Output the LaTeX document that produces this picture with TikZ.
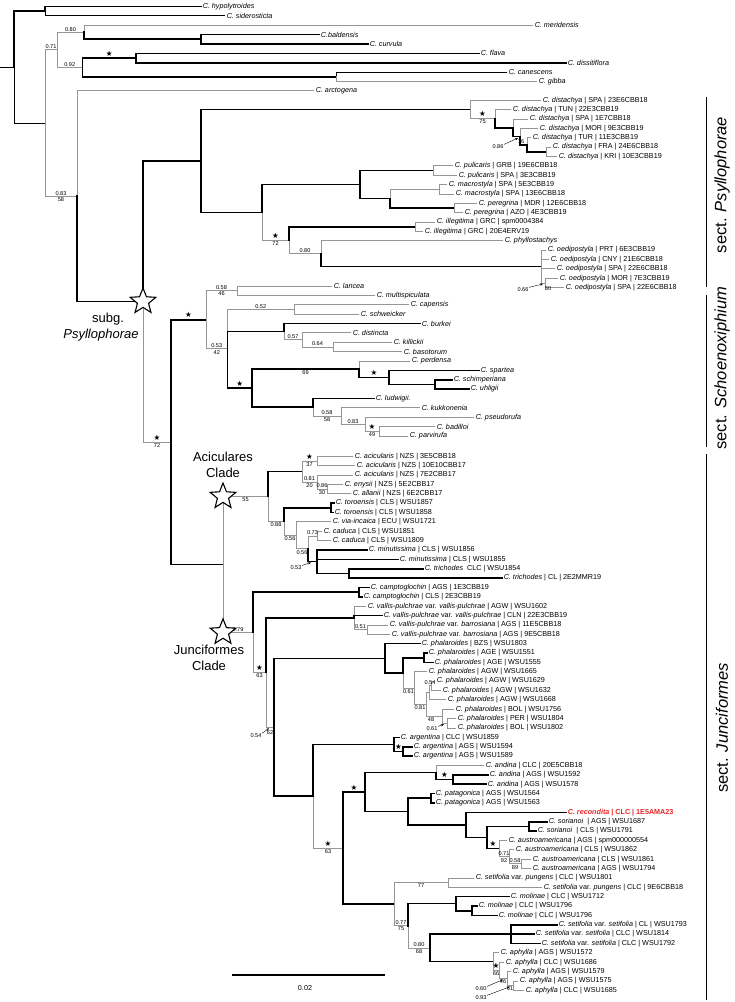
\documentclass[tikz,border=0pt]{standalone}
\usepackage{fontspec}
\setmainfont{Liberation Sans}
\newfontfamily\symf{DejaVu Sans}
\usetikzlibrary{calc,shapes.geometric,arrows.meta}
\definecolor{thg}{RGB}{150,150,150}
\definecolor{recred}{RGB}{235,35,35}
\newcommand\tip[4]{\coordinate (#1) at (#2,{6.5+(#3-1)*9.37}); \node[lab] (#1l) at (#1) {#4};}
\newcommand\inode[4]{\path let \p1=(#3), \p2=(#4) in coordinate (#1) at ({#2pt},{0.5*\y1+0.5*\y2});}
\newcommand\br[3]{\draw[#1] (#2) |- (#3);}
\newcommand\ab[3]{\path let \p1=(#1), \p2=(#2) in node[sv,anchor=south] (#2-pp) at ({0.5*\x1+0.5*\x2},{\y2+0.4pt}) {#3};}
\newcommand\be[3]{\path let \p1=(#1), \p2=(#2) in node[sv,anchor=north] (#2-bs) at ({0.5*\x1+0.5*\x2},{\y2-0.6pt}) {#3};}
\newcommand\st[2]{\path let \p1=(#1), \p2=(#2) in node[stl] (#2-st) at ({0.5*\x1+0.5*\x2},{\y2+4.6pt}) {★};}
\begin{document}
\begin{tikzpicture}[x=1pt,y=-1pt,
 bo/.style={draw=black,line width=1.6pt,line cap=rect},
 md/.style={draw=black,line width=0.8pt,line cap=rect},
 th/.style={draw=thg,line width=0.8pt,line cap=rect},
 lab/.style={font=\fontsize{7.2}{8}\selectfont,anchor=west,inner sep=1.6pt},
 sv/.style={font=\fontsize{5.6}{6}\selectfont,inner sep=0.5pt},
 stl/.style={font=\symf\fontsize{7.5}{8}\selectfont,inner sep=0pt},
 arr/.style={-{Stealth[length=3pt,width=2.4pt]},line width=0.4pt},
 bigstar/.style={star,star points=5,star point ratio=2.3,minimum size=27pt,inner sep=0pt,draw=black,line width=1.1pt,fill=white},
 cl/.style={font=\fontsize{13}{14}\selectfont,inner sep=0pt},
 sect/.style={font=\fontsize{16.5}{18}\selectfont,inner sep=0pt,rotate=90},
 secbar/.style={draw=black,line width=1pt}]
\useasboundingbox (0,0) rectangle (735,1002);
\coordinate (o) at (0,0);
% ---------------- tips
\tip{t1}{201}{1}{\textit{C. hypolytroides}}
\tip{t2}{225}{2}{\textit{C. siderosticta}}
\tip{t3}{533}{3}{\textit{C. meridensis}}
\tip{t4}{319}{4}{\textit{C.baldensis}}
\tip{t5}{368}{5}{\textit{C. curvula}}
\tip{t6}{479}{6}{\textit{C. flava}}
\tip{t7}{566}{7}{\textit{C. dissitiflora}}
\tip{t8}{507}{8}{\textit{C. canescens}}
\tip{t9}{537}{9}{\textit{C. gibba}}
\tip{t10}{314}{10}{\textit{C. arctogena}}
\tip{t11}{541}{11}{\textit{C. distachya} | SPA | 23E6CBB18}
\tip{t12}{511}{12}{\textit{C. distachya} | TUN | 22E3CBB19}
\tip{t13}{528}{13}{\textit{C. distachya} | SPA | 1E7CBB18}
\tip{t14}{538}{14}{\textit{C. distachya} | MOR | 9E3CBB19}
\tip{t15}{531}{15}{\textit{C. distachya} | TUR | 11E3CBB19}
\tip{t16}{551}{16}{\textit{C. distachya} | FRA | 24E6CBB18}
\tip{t17}{557}{17}{\textit{C. distachya} | KRI | 10E3CBB19}
\tip{t18}{453}{18}{\textit{C. pulicaris} | GRB | 19E6CBB18}
\tip{t19}{457}{19}{\textit{C. pulicaris} | SPA | 3E3CBB19}
\tip{t20}{447}{20}{\textit{C. macrostyla} | SPA | 5E3CBB19}
\tip{t21}{454}{21}{\textit{C. macrostyla} | SPA | 13E6CBB18}
\tip{t22}{477}{22}{\textit{C. peregrina} | MDR | 12E6CBB18}
\tip{t23}{463}{23}{\textit{C. peregrina} | AZO | 4E3CBB19}
\tip{t24}{435}{24}{\textit{C. illegitima} | GRC | spm0004384}
\tip{t25}{423}{25}{\textit{C. illegitima} | GRC | 20E4ERV19}
\tip{t26}{503}{26}{\textit{C. phyllostachys}}
\tip{t27}{546}{27}{\textit{C. oedipostyla} | PRT | 6E3CBB19}
\tip{t28}{549}{28}{\textit{C. oedipostyla} | CNY | 21E6CBB18}
\tip{t29}{555}{29}{\textit{C. oedipostyla} | SPA | 22E6CBB18}
\tip{t30}{558}{30}{\textit{C. oedipostyla} | MOR | 7E3CBB19}
\tip{t31}{564}{31}{\textit{C. oedipostyla} | SPA | 22E6CBB18}
\tip{t32}{332}{30.83}{\textit{C. lancea}}
\tip{t33}{375}{31.83}{\textit{C. multispiculata}}
\tip{t34}{409}{32.83}{\textit{C. capensis}}
\tip{t35}{359}{33.83}{\textit{C. schweicker}}
\tip{t36}{420}{34.83}{\textit{C. burkei}}
\tip{t37}{351}{35.83}{\textit{C. distincta}}
\tip{t38}{392}{36.83}{\textit{C. killickii}}
\tip{t39}{402}{37.83}{\textit{C. basotorum}}
\tip{t40}{410}{38.83}{\textit{C. perdensa}}
\tip{t41}{479}{39.83}{\textit{C. spartea}}
\tip{t42}{452}{40.83}{\textit{C. schimperiana}}
\tip{t43}{469}{41.83}{\textit{C. uhligii}}
\tip{t44}{374}{42.83}{\textit{C. ludwigii.}}
\tip{t45}{420}{43.83}{\textit{C. kukkonenia}}
\tip{t46}{474}{44.83}{\textit{C. pseudorufa}}
\tip{t47}{435}{45.83}{\textit{C. badilloi}}
\tip{t48}{408}{46.83}{\textit{C. parvirufa}}
\tip{t49}{353}{49}{\textit{C. acicularis} | NZS | 3E5CBB18}
\tip{t50}{355}{50}{\textit{C. acicularis} | NZS | 10E10CBB17}
\tip{t51}{353}{51}{\textit{C. acicularis} | NZS | 7E2CBB17}
\tip{t52}{343}{52}{\textit{C. enysii} | NZS | 5E2CBB17}
\tip{t53}{351}{53}{\textit{C. allanii} | NZS | 6E2CBB17}
\tip{t54}{334}{54}{\textit{C. toroensis} | CLS | WSU1857}
\tip{t55}{333}{55}{\textit{C. toroensis} | CLS | WSU1858}
\tip{t56}{331}{56}{\textit{C. via-incaica} | ECU | WSU1721}
\tip{t57}{322}{57}{\textit{C. caduca} | CLS | WSU1851}
\tip{t58}{331}{58}{\textit{C. caduca} | CLS | WSU1809}
\tip{t59}{367}{59}{\textit{C. minutissima} | CLS | WSU1856}
\tip{t60}{398}{60}{\textit{C. minutissima} | CLS | WSU1855}
\tip{t61}{423}{61}{\textit{C. trichodes}\ \ CLC | WSU1854}
\tip{t62}{502}{62}{\textit{C. trichodes} | CL | 2E2MMR19}
\tip{t63}{369}{63}{\textit{C. camptoglochin} | AGS | 1E3CBB19}
\tip{t64}{362}{64}{\textit{C. camptoglochin} | CLS | 2E3CBB19}
\tip{t65}{366}{65}{\textit{C. vallis-pulchrae} var. \textit{vallis-pulchrae} | AGW | WSU1602}
\tip{t66}{382}{66}{\textit{C. vallis-pulchrae} var. \textit{vallis-pulchrae} | CLN | 22E3CBB19}
\tip{t67}{388}{67}{\textit{C. vallis-pulchrae} var. \textit{barrosiana} | AGS | 11E5CBB18}
\tip{t68}{390}{68}{\textit{C. vallis-pulchrae} var. \textit{barrosiana} | AGS | 9E5CBB18}
\tip{t69}{420}{69}{\textit{C. phalaroides} | BZS | WSU1803}
\tip{t70}{427}{70}{\textit{C. phalaroides} | AGE | WSU1551}
\tip{t71}{433}{71}{\textit{C. phalaroides} | AGE | WSU1555}
\tip{t72}{427}{72}{\textit{C. phalaroides} | AGW | WSU1665}
\tip{t73}{435}{73}{\textit{C. phalaroides} | AGW | WSU1629}
\tip{t74}{441}{74}{\textit{C. phalaroides} | AGW | WSU1632}
\tip{t75}{446}{75}{\textit{C. phalaroides} | AGW | WSU1668}
\tip{t76}{454}{76}{\textit{C. phalaroides} | BOL | WSU1756}
\tip{t77}{456}{77}{\textit{C. phalaroides} | PER | WSU1804}
\tip{t78}{456}{78}{\textit{C. phalaroides} | BOL | WSU1802}
\tip{t79}{399}{79}{\textit{C. argentina} | CLC | WSU1859}
\tip{t80}{412}{80}{\textit{C. argentina} | AGS | WSU1594}
\tip{t81}{412}{81}{\textit{C. argentina} | AGS | WSU1589}
\tip{t82}{484}{82}{\textit{C. andina} | CLC | 20E5CBB18}
\tip{t83}{488}{83}{\textit{C. andina} | AGS | WSU1592}
\tip{t84}{486}{84}{\textit{C. andina} | AGS | WSU1578}
\tip{t85}{434}{85}{\textit{C. patagonica} | AGS | WSU1564}
\tip{t86}{434}{86}{\textit{C. patagonica} | AGS | WSU1563}
\tip{t87}{566}{87}{\color{recred}\bfseries\textit{C. recondita} | CLC | 1E5AMA23}
\tip{t88}{547}{88}{\textit{C. sorianoi}\ \ | AGS | WSU1687}
\tip{t89}{536}{89}{\textit{C. sorianoi}\ \ | CLS | WSU1791}
\tip{t90}{507}{90}{\textit{C. austroamericana} | AGS | spm000000554}
\tip{t91}{514}{91}{\textit{C. austroamericana} | CLS | WSU1862}
\tip{t92}{531}{92}{\textit{C. austroamericana} | CLS | WSU1861}
\tip{t93}{531}{93}{\textit{C. austroamericana} | AGS | WSU1794}
\tip{t94}{474}{94}{\textit{C. setifolia} var. \textit{pungens} | CLC | WSU1801}
\tip{t95}{542}{95}{\textit{C. setifolia} var. \textit{pungens} | CLC | 9E6CBB18}
\tip{t96}{509}{96}{\textit{C. molinae} | CLC | WSU1712}
\tip{t97}{477}{97}{\textit{C. molinae} | CLC | WSU1796}
\tip{t98}{497}{98}{\textit{C. molinae} | CLC | WSU1796}
\tip{t99}{557}{99}{\textit{C. setifolia} var. \textit{setifolia} | CL | WSU1793}
\tip{t100}{534}{100}{\textit{C. setifolia} var. \textit{setifolia} | CLC | WSU1814}
\tip{t101}{540}{101}{\textit{C. setifolia} var. \textit{setifolia} | CLC | WSU1792}
\tip{t102}{499}{102}{\textit{C. aphylla} | AGS | WSU1572}
\tip{t103}{504}{103}{\textit{C. aphylla} | CLC | WSU1686}
\tip{t104}{511}{104}{\textit{C. aphylla} | AGS | WSU1579}
\tip{t105}{518}{105}{\textit{C. aphylla} | AGS | WSU1575}
\tip{t106}{524}{106}{\textit{C. aphylla} | CLC | WSU1685}
% ---------------- internal nodes
\inode{A}{45}{t1}{t2}
\inode{BC}{201}{t4}{t5}
\inode{n080}{84}{t3}{BC}
\inode{FD}{136}{t6}{t7}
\inode{CGb}{336}{t8}{t9}
\inode{n092}{82.5}{FD}{CGb}
\inode{n071}{57}{n080}{n092}
\inode{D5}{546}{t16}{t17}
\inode{D4}{527}{t15}{D5}
\inode{D3}{520}{t14}{D4}
\inode{D2}{513}{t13}{D3}
\inode{D1}{495}{t12}{D2}
\inode{D0}{470}{t11}{D1}
\inode{PUL}{433}{t18}{t19}
\inode{MAC}{439}{t20}{t21}
\inode{PER}{454}{t22}{t23}
\inode{M}{390}{MAC}{PER}
\inode{R}{360}{PUL}{M}
\inode{ILL}{415}{t24}{t25}
\inode{V}{545}{t30}{t31}
\inode{U}{541}{t27}{V}
\inode{T}{321}{t26}{U}
\inode{S}{289}{ILL}{T}
\inode{Q}{262}{R}{S}
\inode{PQ}{201}{D0}{Q}
\inode{L}{237}{t32}{t33}
\inode{CS}{294}{t34}{t35}
\inode{Y}{333}{t38}{t39}
\inode{X}{302}{t37}{Y}
\inode{W}{284}{t36}{X}
\inode{Z1c}{435}{t42}{t43}
\inode{Z1b}{389}{t41}{Z1c}
\inode{Z1}{359}{t40}{Z1b}
\inode{Z5}{379}{t47}{t48}
\inode{Z4}{365}{t46}{Z5}
\inode{Z3}{341}{t45}{Z4}
\inode{Z2}{313}{t44}{Z3}
\inode{Z}{252}{Z1}{Z2}
\inode{Sb}{227.5}{CS}{Z}
\inode{Sch}{206}{L}{Sb}
\inode{AC37}{317}{t49}{t50}
\inode{AC1c}{327}{t52}{t53}
\inode{AC1b}{317}{t51}{AC1c}
\inode{AC1}{302}{AC37}{AC1b}
\inode{T1}{331}{t54}{t55}
\inode{CAD}{317}{t57}{t58}
\inode{TR}{349}{t61}{t62}
\inode{MT}{317}{t59}{TR}
\inode{AC4}{308}{CAD}{MT}
\inode{AC3}{296}{t56}{AC4}
\inode{AC2}{284}{T1}{AC3}
\inode{Acic}{268}{AC1}{AC2}
\inode{CG}{359}{t63}{t64}
\inode{BAR}{367}{t67}{t68}
\inode{VP}{354}{t65}{BAR}
\inode{AGE}{424}{t70}{t71}
\inode{PH5a}{431}{t73}{t74}
\inode{PH5}{429}{PH5a}{t75}
\inode{PH7}{447}{t77}{t78}
\inode{PH6}{442}{t76}{PH7}
\inode{PH4}{426}{PH5}{PH6}
\inode{PH3}{414}{t72}{PH4}
\inode{PH2}{403}{AGE}{PH3}
\inode{PH}{385}{t69}{PH2}
\inode{ARG2}{403}{t80}{t81}
\inode{ARG}{394}{t79}{ARG2}
\inode{AND2}{453}{t83}{t84}
\inode{AND}{436}{t82}{AND2}
\inode{PAT}{431}{t85}{t86}
\inode{SOR}{529}{t88}{t89}
\inode{AUS3}{521}{t92}{t93}
\inode{AUS2}{509}{t91}{AUS3}
\inode{AUS}{499}{t90}{AUS2}
\inode{J10}{487}{SOR}{AUS}
\inode{J9}{466}{t87}{J10}
\inode{J8}{408}{PAT}{J9}
\inode{J7}{365}{AND}{J8}
\inode{PUN}{448}{t94}{t95}
\inode{MOL2}{472}{t97}{t98}
\inode{MOL}{456}{t96}{MOL2}
\inode{SET}{511}{t99}{t101}
\inode{APH4}{513}{t105}{t106}
\inode{APH3}{507}{t104}{APH4}
\inode{APH2}{499}{t103}{APH3}
\inode{APH}{493}{t102}{APH2}
\inode{J12}{430}{SET}{APH}
\inode{J11}{408}{MOL}{J12}
\inode{J6}{394}{PUN}{J11}
\inode{J5}{343}{J7}{J6}
\inode{J4}{313}{ARG}{J5}
\inode{J3}{274}{PH}{J4}
\inode{J2}{266}{VP}{J3}
\inode{J}{253}{CG}{J2}
\inode{AJ}{223}{Acic}{J}
\inode{K}{171}{Sch}{AJ}
\inode{PS}{143}{PQ}{K}
\inode{N083}{77}{t10}{PS}
\inode{B}{45}{n071}{N083}
\inode{root}{14}{A}{B}
% ---------------- branches
\draw[md] (o |- root) -- (root);
\br{bo}{root}{A} \br{md}{root}{B}
\br{bo}{A}{t1} \br{md}{A}{t2}
\br{th}{B}{n071} \br{th}{B}{N083}
\br{th}{n071}{n080} \br{th}{n071}{n092}
\br{th}{n080}{t3} \br{bo}{n080}{BC}
\br{bo}{BC}{t4} \br{bo}{BC}{t5}
\br{bo}{n092}{FD} \br{bo}{n092}{CGb}
\br{bo}{FD}{t6} \br{bo}{FD}{t7}
\br{md}{CGb}{t8} \br{th}{CGb}{t9}
\br{th}{N083}{t10} \br{bo}{N083}{PS}
\br{th}{PS}{K} \br{bo}{PS}{PQ}
\br{bo}{PQ}{D0} \br{bo}{PQ}{Q}
\br{th}{D0}{t11} \br{th}{D0}{D1}
\br{th}{D1}{t12} \br{bo}{D1}{D2}
\br{th}{D2}{t13} \br{bo}{D2}{D3}
\br{th}{D3}{t14} \br{bo}{D3}{D4}
\br{th}{D4}{t15} \br{bo}{D4}{D5}
\br{th}{D5}{t16} \br{th}{D5}{t17}
\br{th}{Q}{S} \br{bo}{Q}{R}
\br{bo}{R}{PUL} \br{bo}{R}{M}
\br{th}{PUL}{t18} \br{th}{PUL}{t19}
\br{th}{M}{MAC} \br{bo}{M}{PER}
\br{th}{MAC}{t20} \br{th}{MAC}{t21}
\br{th}{PER}{t22} \br{th}{PER}{t23}
\br{th}{S}{T} \br{bo}{S}{ILL}
\br{th}{ILL}{t24} \br{th}{ILL}{t25}
\br{th}{T}{t26} \br{bo}{T}{U}
\br{th}{U}{t27} \br{th}{U}{t28} \br{th}{U}{t29} \br{th}{U}{V}
\br{th}{V}{t30} \br{th}{V}{t31}
\br{bo}{K}{Sch} \br{bo}{K}{AJ}
\br{th}{Sch}{L} \br{th}{Sch}{Sb}
\br{th}{L}{t32} \br{th}{L}{t33}
\br{th}{Sb}{CS} \br{bo}{Sb}{W} \br{bo}{Sb}{Z}
\br{th}{CS}{t34} \br{th}{CS}{t35}
\br{th}{W}{X} \br{bo}{W}{t36}
\br{th}{X}{t37} \br{th}{X}{Y}
\br{th}{Y}{t38} \br{th}{Y}{t39}
\br{bo}{Z}{Z1} \br{bo}{Z}{Z2}
\br{th}{Z1}{t40} \br{bo}{Z1}{Z1b}
\br{bo}{Z1b}{t41} \br{bo}{Z1b}{Z1c}
\br{bo}{Z1c}{t42} \br{bo}{Z1c}{t43}
\br{th}{Z2}{Z3} \br{bo}{Z2}{t44}
\br{th}{Z3}{t45} \br{th}{Z3}{Z4}
\br{th}{Z4}{t46} \br{th}{Z4}{Z5}
\br{th}{Z5}{t47} \br{th}{Z5}{t48}
\br{th}{AJ}{Acic} \br{th}{AJ}{J}
\br{th}{Acic}{AC2} \br{bo}{Acic}{AC1}
\br{th}{AC1}{AC37} \br{th}{AC1}{AC1b}
\br{th}{AC37}{t49} \br{th}{AC37}{t50}
\br{th}{AC1b}{t51} \br{th}{AC1b}{AC1c}
\br{th}{AC1c}{t52} \br{th}{AC1c}{t53}
\br{th}{AC2}{AC3} \br{bo}{AC2}{T1}
\br{bo}{T1}{t54} \br{bo}{T1}{t55}
\br{th}{AC3}{t56} \br{th}{AC3}{AC4}
\br{th}{AC4}{CAD} \br{bo}{AC4}{MT}
\br{th}{CAD}{t57} \br{th}{CAD}{t58}
\br{bo}{MT}{t59} \br{bo}{MT}{t60} \br{bo}{MT}{TR}
\br{bo}{TR}{t61} \br{bo}{TR}{t62}
\br{th}{J}{J2} \br{bo}{J}{CG}
\br{bo}{CG}{t63} \br{bo}{CG}{t64}
\br{th}{J2}{J3} \br{bo}{J2}{VP}
\br{th}{VP}{t65} \br{th}{VP}{BAR} \br{bo}{VP}{t66}
\br{th}{BAR}{t67} \br{th}{BAR}{t68}
\br{bo}{J3}{PH} \br{bo}{J3}{J4}
\br{bo}{PH}{t69} \br{bo}{PH}{PH2}
\br{th}{PH2}{PH3} \br{bo}{PH2}{AGE}
\br{bo}{AGE}{t70} \br{bo}{AGE}{t71}
\br{th}{PH3}{t72} \br{th}{PH3}{PH4}
\br{th}{PH4}{PH5} \br{th}{PH4}{PH6}
\br{th}{PH5}{PH5a} \br{th}{PH5}{t75}
\br{th}{PH5a}{t73} \br{th}{PH5a}{t74}
\br{th}{PH6}{t76} \br{th}{PH6}{PH7}
\br{th}{PH7}{t77} \br{th}{PH7}{t78}
\br{th}{J4}{J5} \br{bo}{J4}{ARG}
\br{bo}{ARG}{t79} \br{bo}{ARG}{ARG2}
\br{bo}{ARG2}{t80} \br{bo}{ARG2}{t81}
\br{bo}{J5}{J7} \br{bo}{J5}{J6}
\br{bo}{J7}{AND} \br{bo}{J7}{J8}
\br{th}{AND}{t82} \br{bo}{AND}{AND2}
\br{bo}{AND2}{t83} \br{bo}{AND2}{t84}
\br{bo}{J8}{PAT} \br{bo}{J8}{J9}
\br{bo}{PAT}{t85} \br{bo}{PAT}{t86}
\br{bo}{J9}{t87} \br{bo}{J9}{J10}
\br{bo}{J10}{SOR} \br{bo}{J10}{AUS}
\br{bo}{SOR}{t88} \br{bo}{SOR}{t89}
\br{th}{AUS}{t90} \br{th}{AUS}{AUS2}
\br{th}{AUS2}{t91} \br{th}{AUS2}{AUS3}
\br{th}{AUS3}{t92} \br{th}{AUS3}{t93}
\br{th}{J6}{PUN} \br{th}{J6}{J11}
\br{th}{PUN}{t94} \br{th}{PUN}{t95}
\br{th}{J11}{J12} \br{bo}{J11}{MOL}
\br{bo}{MOL}{t96} \br{bo}{MOL}{MOL2}
\br{bo}{MOL2}{t97} \br{bo}{MOL2}{t98}
\br{bo}{J12}{SET} \br{bo}{J12}{APH}
\br{bo}{SET}{t99} \br{bo}{SET}{t100} \br{bo}{SET}{t101}
\br{th}{APH}{t102} \br{th}{APH}{APH2}
\br{th}{APH2}{t103} \br{th}{APH2}{APH3}
\br{th}{APH3}{t104} \br{th}{APH3}{APH4}
\br{th}{APH4}{t105} \br{th}{APH4}{t106}
% ---------------- support values
\ab{B}{n071}{0.71}
\ab{n071}{n080}{0.80}
\ab{n071}{n092}{0.92}
\st{n092}{FD}
\ab{B}{N083}{0.83} \be{B}{N083}{58}
\st{D0}{D1} \be{D0}{D1}{75}
\node[sv] (D3-p) at (498,147) {0.86};
\node[sv] (D3-q) at (521,141.5) {76};
\draw[arr] (D3-p.north east) -- ($(D3)+(-2,1.5)$);
\st{Q}{S} \be{Q}{S}{72}
\ab{S}{T}{0.80}
\node[sv] (V-p) at (523,290) {0.66};
\node[sv] (V-q) at (548,289) {80};
\draw[arr] (V-p.north east) -- ($(V)+(-2,1)$);
\st{PS}{K} \be{PS}{K}{72}
\st{K}{Sch}
\ab{Sch}{L}{0.58} \be{Sch}{L}{46}
\ab{Sch}{Sb}{0.53} \be{Sch}{Sb}{42}
\ab{Sb}{CS}{0.52}
\st{Sb}{Z}
\ab{W}{X}{0.57}
\ab{X}{Y}{0.64}
\be{Z}{Z1}{69}
\st{Z1}{Z1b}
\ab{Z2}{Z3}{0.58} \be{Z2}{Z3}{58}
\ab{Z3}{Z4}{0.83}
\st{Z4}{Z5} \be{Z4}{Z5}{49}
\be{AJ}{Acic}{55}
\st{AC1}{AC37} \be{AC1}{AC37}{37}
\ab{AC1}{AC1b}{0.81} \be{AC1}{AC1b}{20}
\ab{AC1b}{AC1c}{0.86} \be{AC1b}{AC1c}{30}
\be{Acic}{AC2}{0.88}
\be{AC2}{AC3}{0.56}
\be{AC3}{AC4}{0.56}
\ab{AC4}{CAD}{0.73}
\node[sv] (MT-p) at (296,568) {0.53};
\draw[arr] (MT-p.north east) -- ($(MT)+(-6,0.8)$);
\ab{AJ}{J}{0.79}
\st{J}{J2} \be{J}{J2}{63}
\ab{VP}{BAR}{0.51}
\node[sv] (J3-p) at (256,736) {0.54};
\node[sv] (J3-q) at (270,733) {62};
\draw[arr] (J3-p.north east) -- ($(J3)+(-5,1)$);
\be{PH2}{PH3}{0.61}
\ab{PH5}{PH5a}{0.54}
\be{PH3}{PH4}{0.81}
\node[sv] (PH6-q) at (431,720) {48};
\node[sv] (PH6-p) at (432,729) {0.61};
\draw[arr] (PH6-p.north east) -- ($(PH7)+(-3,1)$);
\st{ARG}{ARG2}
\st{J5}{J7}
\st{AND}{AND2}
\st{J4}{J5} \be{J4}{J5}{63}
\st{J10}{AUS}
\ab{AUS}{AUS2}{0.71} \be{AUS}{AUS2}{92}
\ab{AUS2}{AUS3}{0.58} \be{AUS2}{AUS3}{89}
\be{J6}{PUN}{77}
\ab{J6}{J11}{0.77} \be{J6}{J11}{75}
\ab{J11}{J12}{0.80} \be{J11}{J12}{68}
\st{APH}{APH2} \be{APH}{APH2}{66}
\be{APH2}{APH3}{46}
\be{APH3}{APH4}{61}
\node[sv] (A3-p) at (481,989) {0.60};
\draw[arr] (A3-p.north east) -- ($(APH3)+(-4,1)$);
\node[sv] (A4-p) at (481,998) {0.93};
\draw[arr] (A4-p.north east) -- ($(APH4)+(-3,1)$);
% ---------------- clade labels and stars
\node[bigstar] (bs1) at (PS) {};
\node[bigstar] (bs2) at (AJ |- Acic) {};
\node[bigstar] (bs3) at (AJ |- J) {};
\node[cl] (sg1) at (108,319) {subg.};
\node[cl] (sg2) at (101,335) {\textit{Psyllophorae}};
\node[cl] (ac1) at (223,457) {Aciculares};
\node[cl] (ac2) at (223,473) {Clade};
\node[cl] (ju1) at (209,650) {Junciformes};
\node[cl] (ju2) at (209,666) {Clade};
% ---------------- section bars
\coordinate (s1a) at (706,97); \coordinate (s1b) at (706,287);
\coordinate (s2a) at (706,295); \coordinate (s2b) at (706,447);
\coordinate (s3a) at (706,454); \coordinate (s3b) at (706,1000);
\draw[secbar] (s1a) -- (s1b);
\draw[secbar] (s2a) -- (s2b);
\draw[secbar] (s3a) -- (s3b);
\node[sect] (sc1) at (722,185) {sect. \textit{Psyllophorae}};
\node[sect] (sc2) at (722,368) {sect. \textit{Schoenoxiphium}};
\node[sect] (sc3) at (722,728) {sect. \textit{Junciformes}};
% ---------------- scale bar
\coordinate (sb1) at (232,975); \coordinate (sb2) at (385,975);
\draw[line width=1.3pt] (sb1) -- (sb2);
\node[font=\fontsize{7.2}{8}\selectfont,inner sep=0pt] (sbl) at (305,988) {0.02};
\end{tikzpicture}
\end{document}
